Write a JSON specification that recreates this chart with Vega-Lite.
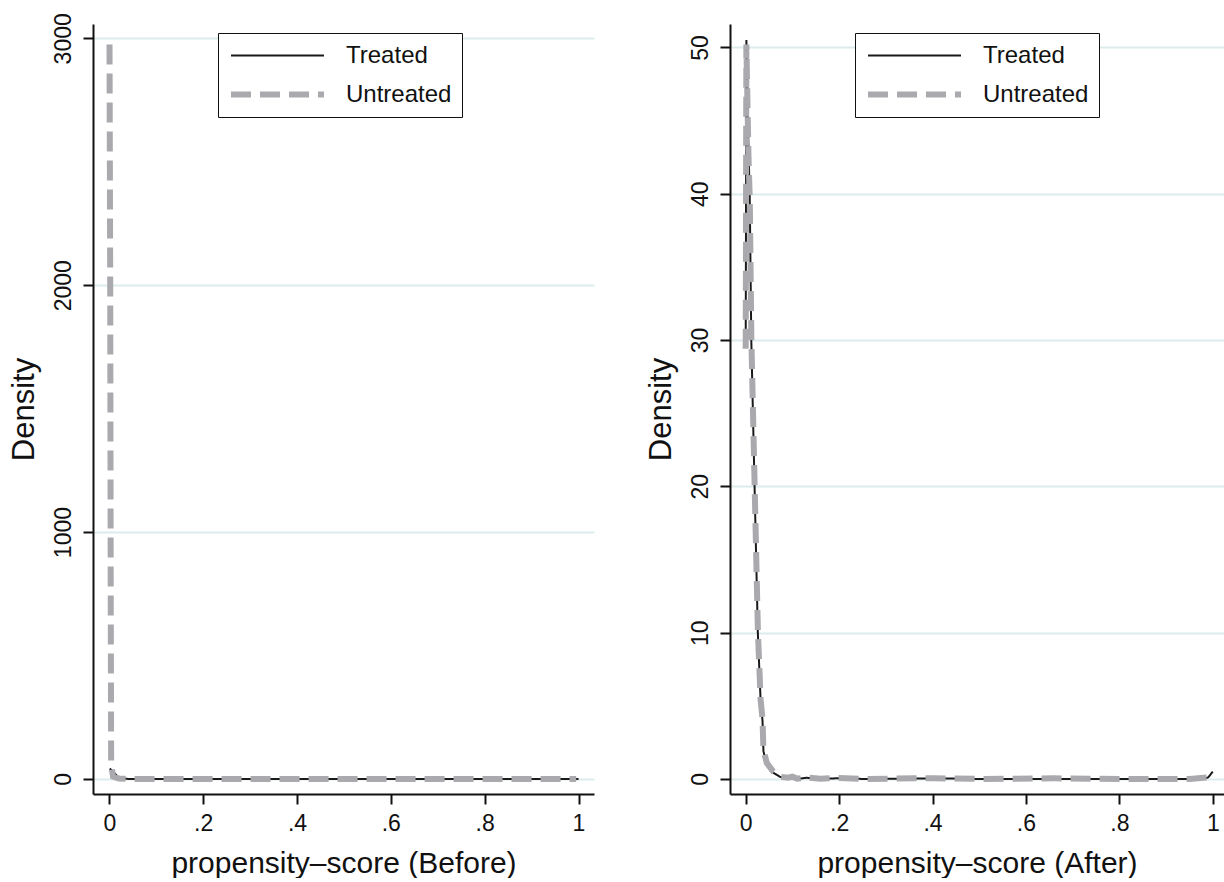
{
  "$schema": "https://vega.github.io/schema/vega-lite/v6.json",
  "background": "white",
  "padding": {"left": 7, "top": 12, "right": 0, "bottom": 0},
  "spacing": 51,
  "config": {
    "view": {"stroke": null},
    "font": "Liberation Sans",
    "axis": {
      "domainColor": "#111111",
      "domainWidth": 2,
      "tickColor": "#111111",
      "tickWidth": 2,
      "tickSize": 10,
      "labelFont": "Liberation Sans",
      "labelFontSize": 23,
      "labelColor": "#111111",
      "labelPadding": 8,
      "titleFont": "Liberation Sans",
      "titleFontWeight": "normal",
      "titleColor": "#111111",
      "gridColor": "#dcebeb",
      "gridWidth": 2
    },
    "legend": {
      "labelFont": "Liberation Sans",
      "labelFontSize": 24,
      "labelColor": "#111111",
      "strokeColor": "#111111",
      "fillColor": "white",
      "padding": 10,
      "rowPadding": 14,
      "clipHeight": 25,
      "labelOffset": 19,
      "symbolType": "stroke",
      "symbolSize": 8649
    }
  },
  "datasets": {
    "before": [
      {"group": "Treated", "x": 0.001, "y": 42},
      {"group": "Treated", "x": 0.005, "y": 35},
      {"group": "Treated", "x": 0.01, "y": 25},
      {"group": "Treated", "x": 0.015, "y": 15},
      {"group": "Treated", "x": 0.02, "y": 8},
      {"group": "Treated", "x": 0.025, "y": 3},
      {"group": "Treated", "x": 0.03, "y": 1},
      {"group": "Treated", "x": 0.04, "y": 0.2},
      {"group": "Treated", "x": 0.06, "y": 0},
      {"group": "Treated", "x": 0.2, "y": 0},
      {"group": "Treated", "x": 0.4, "y": 0},
      {"group": "Treated", "x": 0.6, "y": 0},
      {"group": "Treated", "x": 0.8, "y": 0},
      {"group": "Treated", "x": 1.0, "y": 0},
      {"group": "Untreated", "x": 0.0005, "y": 2975},
      {"group": "Untreated", "x": 0.002, "y": 2000},
      {"group": "Untreated", "x": 0.003, "y": 800},
      {"group": "Untreated", "x": 0.004, "y": 60},
      {"group": "Untreated", "x": 0.008, "y": 10},
      {"group": "Untreated", "x": 0.02, "y": 2},
      {"group": "Untreated", "x": 0.04, "y": 0.3},
      {"group": "Untreated", "x": 0.06, "y": 0},
      {"group": "Untreated", "x": 0.2, "y": 0},
      {"group": "Untreated", "x": 0.4, "y": 0},
      {"group": "Untreated", "x": 0.6, "y": 0},
      {"group": "Untreated", "x": 0.8, "y": 0},
      {"group": "Untreated", "x": 0.995, "y": 0}
    ],
    "after": [
      {"group": "Treated", "x": 0.0, "y": 29.6},
      {"group": "Treated", "x": 0.0005, "y": 36},
      {"group": "Treated", "x": 0.001, "y": 44},
      {"group": "Treated", "x": 0.0015, "y": 50.5},
      {"group": "Treated", "x": 0.003, "y": 48},
      {"group": "Treated", "x": 0.006, "y": 43},
      {"group": "Treated", "x": 0.0086, "y": 40},
      {"group": "Treated", "x": 0.012, "y": 30},
      {"group": "Treated", "x": 0.019, "y": 20},
      {"group": "Treated", "x": 0.026, "y": 10},
      {"group": "Treated", "x": 0.032, "y": 5.3},
      {"group": "Treated", "x": 0.036, "y": 4},
      {"group": "Treated", "x": 0.038, "y": 1.9},
      {"group": "Treated", "x": 0.045, "y": 1.0},
      {"group": "Treated", "x": 0.059, "y": 0.43},
      {"group": "Treated", "x": 0.074, "y": 0.13},
      {"group": "Treated", "x": 0.09, "y": 0.05},
      {"group": "Treated", "x": 0.1, "y": 0.12},
      {"group": "Treated", "x": 0.11, "y": 0},
      {"group": "Treated", "x": 0.13, "y": 0.08},
      {"group": "Treated", "x": 0.16, "y": 0},
      {"group": "Treated", "x": 0.2, "y": 0.05},
      {"group": "Treated", "x": 0.25, "y": 0},
      {"group": "Treated", "x": 0.4, "y": 0.04},
      {"group": "Treated", "x": 0.5, "y": 0},
      {"group": "Treated", "x": 0.7, "y": 0},
      {"group": "Treated", "x": 0.9, "y": 0},
      {"group": "Treated", "x": 0.975, "y": 0},
      {"group": "Treated", "x": 0.99, "y": 0.1},
      {"group": "Treated", "x": 1.0, "y": 0.5},
      {"group": "Untreated", "x": 0.0, "y": 29.4},
      {"group": "Untreated", "x": 0.0005, "y": 35.5},
      {"group": "Untreated", "x": 0.001, "y": 43.5},
      {"group": "Untreated", "x": 0.0015, "y": 50.2},
      {"group": "Untreated", "x": 0.003, "y": 47.5},
      {"group": "Untreated", "x": 0.006, "y": 42.5},
      {"group": "Untreated", "x": 0.0088, "y": 39.5},
      {"group": "Untreated", "x": 0.0122, "y": 30},
      {"group": "Untreated", "x": 0.0192, "y": 20},
      {"group": "Untreated", "x": 0.0262, "y": 10},
      {"group": "Untreated", "x": 0.032, "y": 5.4},
      {"group": "Untreated", "x": 0.036, "y": 4.1},
      {"group": "Untreated", "x": 0.038, "y": 2.0},
      {"group": "Untreated", "x": 0.045, "y": 1.1},
      {"group": "Untreated", "x": 0.059, "y": 0.5},
      {"group": "Untreated", "x": 0.074, "y": 0.15},
      {"group": "Untreated", "x": 0.09, "y": 0.08},
      {"group": "Untreated", "x": 0.1, "y": 0.15},
      {"group": "Untreated", "x": 0.11, "y": 0.02},
      {"group": "Untreated", "x": 0.13, "y": 0.1},
      {"group": "Untreated", "x": 0.16, "y": 0.02},
      {"group": "Untreated", "x": 0.2, "y": 0.06},
      {"group": "Untreated", "x": 0.25, "y": 0},
      {"group": "Untreated", "x": 0.4, "y": 0.05},
      {"group": "Untreated", "x": 0.5, "y": 0},
      {"group": "Untreated", "x": 0.66, "y": 0.04},
      {"group": "Untreated", "x": 0.8, "y": 0},
      {"group": "Untreated", "x": 0.95, "y": 0},
      {"group": "Untreated", "x": 0.99, "y": 0.1},
      {"group": "Untreated", "x": 0.998, "y": 0.45}
    ]
  },
  "hconcat": [
    {
      "width": 501,
      "height": 770,
      "data": {"name": "before"},
      "mark": {"type": "line", "clip": true, "strokeCap": "butt"},
      "encoding": {
        "x": {
          "field": "x", "type": "quantitative",
          "title": "propensity–score (Before)",
          "scale": {"domain": [-0.0347, 1.033], "nice": false, "zero": false},
          "axis": {"values": [0, 0.2, 0.4, 0.6, 0.8, 1], "grid": false,
                   "labelExpr": "datum.value == 0 ? '0' : datum.value == 1 ? '1' : replace(format(datum.value, '.1f'), '0.', '.')",
                   "titleFontSize": 30, "titlePadding": 13}
        },
        "y": {
          "field": "y", "type": "quantitative",
          "title": "Density",
          "scale": {"domain": [-61, 3058], "nice": false, "zero": false},
          "axis": {"values": [0, 1000, 2000, 3000], "format": "d", "grid": true, "labelAngle": -90, "titleFontSize": 31, "titlePadding": 12}
        },
        "order": {"field": "x", "type": "quantitative"},
        "color": {
          "field": "group", "type": "nominal",
          "scale": {"domain": ["Treated", "Untreated"], "range": ["#1a1a1a", "#a9a9ae"]},
          "legend": {"title": null, "orient": "none", "legendX": 125, "legendY": 9}
        },
        "strokeDash": {
          "field": "group", "type": "nominal",
          "scale": {"domain": ["Treated", "Untreated"], "range": [[1, 0], [20, 9]]},
          "legend": {"title": null, "orient": "none", "legendX": 125, "legendY": 9}
        },
        "strokeWidth": {
          "field": "group", "type": "nominal",
          "scale": {"domain": ["Treated", "Untreated"], "range": [2, 6]},
          "legend": {"title": null, "orient": "none", "legendX": 125, "legendY": 9}
        }
      }
    },
    {
      "width": 494,
      "height": 770,
      "data": {"name": "after"},
      "mark": {"type": "line", "clip": true, "strokeCap": "butt"},
      "encoding": {
        "x": {
          "field": "x", "type": "quantitative",
          "title": "propensity–score (After)",
          "scale": {"domain": [-0.0336, 1.024], "nice": false, "zero": false},
          "axis": {"values": [0, 0.2, 0.4, 0.6, 0.8, 1], "grid": false,
                   "labelExpr": "datum.value == 0 ? '0' : datum.value == 1 ? '1' : replace(format(datum.value, '.1f'), '0.', '.')",
                   "titleFontSize": 30, "titlePadding": 13}
        },
        "y": {
          "field": "y", "type": "quantitative",
          "title": "Density",
          "scale": {"domain": [-1.03, 51.6], "nice": false, "zero": false},
          "axis": {"values": [0, 10, 20, 30, 40, 50], "format": "d", "grid": true, "labelAngle": -90, "titleFontSize": 31, "titlePadding": 12}
        },
        "order": {"field": "x", "type": "quantitative"},
        "color": {
          "field": "group", "type": "nominal",
          "scale": {"domain": ["Treated", "Untreated"], "range": ["#1a1a1a", "#a9a9ae"]},
          "legend": {"title": null, "orient": "none", "legendX": 125, "legendY": 9}
        },
        "strokeDash": {
          "field": "group", "type": "nominal",
          "scale": {"domain": ["Treated", "Untreated"], "range": [[1, 0], [20, 9]]},
          "legend": {"title": null, "orient": "none", "legendX": 125, "legendY": 9}
        },
        "strokeWidth": {
          "field": "group", "type": "nominal",
          "scale": {"domain": ["Treated", "Untreated"], "range": [2, 6]},
          "legend": {"title": null, "orient": "none", "legendX": 125, "legendY": 9}
        }
      }
    }
  ],
  "resolve": {"scale": {"x": "independent", "y": "independent", "color": "independent", "strokeDash": "independent", "strokeWidth": "independent"}, "legend": {"color": "independent", "strokeDash": "independent", "strokeWidth": "independent"}}
}
